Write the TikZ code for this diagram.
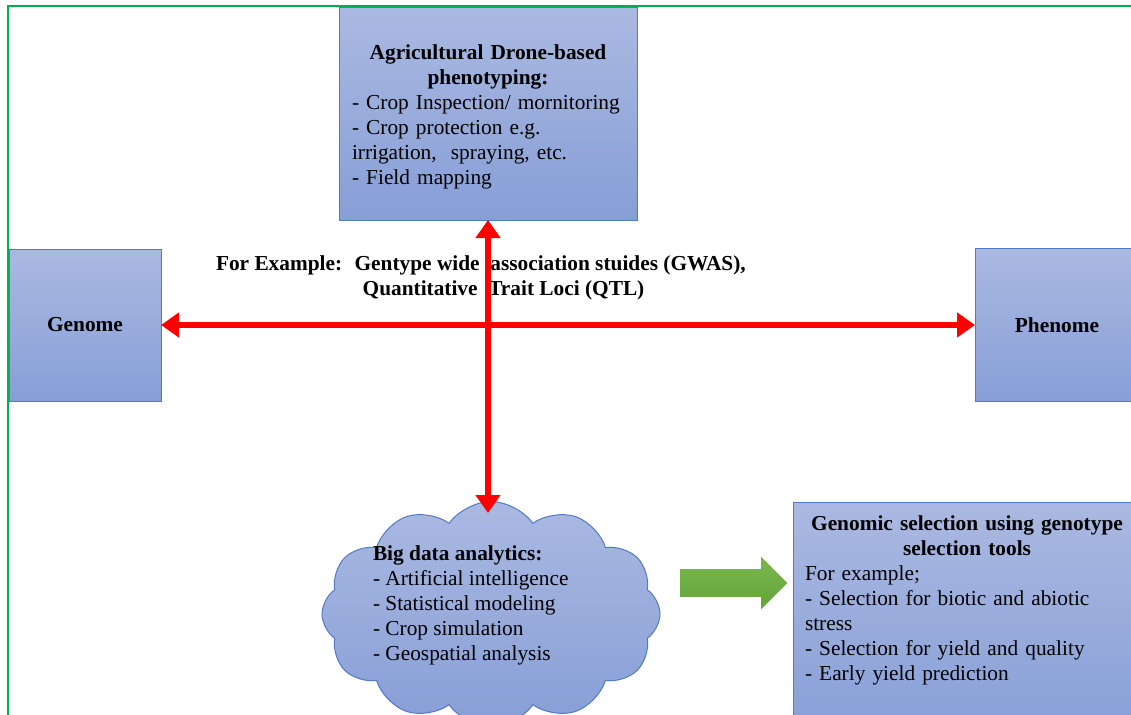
\documentclass[tikz,border=0pt]{standalone}
\usepackage{fontspec}
\setmainfont{Liberation Serif}
\usetikzlibrary{arrows.meta,shapes.symbols,shapes.arrows}
\definecolor{boxtop}{RGB}{170,185,225}
\definecolor{boxbottom}{RGB}{135,158,214}
\definecolor{boxline}{RGB}{82,122,196}
\definecolor{arrowtop}{RGB}{122,184,78}
\definecolor{arrowbottom}{RGB}{100,163,58}
\begin{document}
\begin{tikzpicture}[x={(0.75pt,0pt)},y={(0pt,-0.75pt)},every node/.style={font=\fontsize{16}{18.75}\selectfont, inner sep=0pt, outer sep=0pt},
panel/.style={draw=boxline, line width=0.75pt, top color=boxtop, bottom color=boxbottom},
link/.style={draw={rgb,255:red,255;green,0;blue,0}, line width=4.5pt, {Triangle[length=13.5pt,width=18pt]}-{Triangle[length=13.5pt,width=18pt]}},
frame/.style={draw={rgb,255:red,0;green,176;blue,80}, line width=1.5pt}]
\useasboundingbox (0,0) rectangle (1131,714);
\clip (0,0) rectangle (1131,714);
\node[panel, minimum width=223.5pt, minimum height=159.75pt] (drone) at (488,113.5) {};
\node[text width=204pt, align=left] (dronetext) at (488,116.5) {{\centering\bfseries Agricultural Drone-based\\phenotyping:\par}\noindent- Crop Inspection/ mornitoring\\- Crop protection e.g.\\irrigation,~ spraying, etc.\\- Field mapping};
\node[panel, minimum size=114pt, font=\fontsize{16}{18.75}\selectfont\bfseries] (genome) at (85,325) {Genome};
\node[panel, minimum width=123pt, minimum height=114.75pt, font=\fontsize{16}{18.75}\selectfont\bfseries] (phenome) at (1057,325) {Phenome};
\node[panel, anchor=north west, minimum width=264pt, minimum height=178.5pt] (gsel) at (793,502) {};
\node[anchor=north west, text width=243pt, align=left] (gseltext) at (805,516) {{\centering\bfseries Genomic selection using genotype\\selection tools\par}\noindent For example;\\- Selection for biotic and abiotic\\stress\\- Selection for yield and quality\\- Early yield prediction};
\node[cloud, cloud puffs=12, cloud puff arc=110, cloud ignores aspect, minimum width=253.5pt, minimum height=168.75pt, panel] (bigdata) at (491,614) {};
\node[anchor=north west, align=left] (bdtext) at (373,546) {\textbf{Big data analytics:}\\- Artificial intelligence\\- Statistical modeling\\- Crop simulation\\- Geospatial analysis};
\node[single arrow, single arrow head extend=9.375pt, inner ysep=10.125pt, minimum height=80.25pt, top color=arrowtop, bottom color=arrowbottom, draw=none] (toselect) at (727,583) {};
\node[anchor=west, align=left, font=\fontsize{16}{18.75}\selectfont\bfseries] (example) at (216,277.5) {For Example:~ Gentype wide~ association stuides (GWAS),\\\hspace*{110pt}Quantitative~ Trait Loci (QTL)};
\coordinate (cloudtop) at (488,513);
\draw[link] (genome) -- (phenome);
\draw[link] (drone.south) -- (cloudtop);
\draw[frame] (8,730) |- (1140,6);
\end{tikzpicture}
\end{document}
